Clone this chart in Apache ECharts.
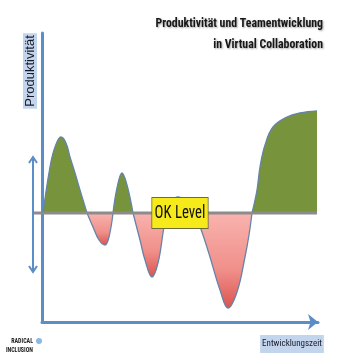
<!DOCTYPE html>
<html><head><meta charset="utf-8">
<script src="https://cdn.jsdelivr.net/npm/echarts@6/dist/echarts.min.js"></script>
<style>html,body{margin:0;padding:0;background:#fff}#c{width:360px;height:360px}</style>
</head><body><div id="c"></div>
<script>
// Development time (x) and productivity relative to OK level (y)
const timeValues = [1,8,13,19,24,28,33,38,45, 51,57,63,67,71, 75,80,85,91, 98,103,110,116,121,124, 130,136,144,153, 161,168,178,186,195,203,207,210, 215,218,223,231,245,258,275];
const productivity = [0,46,66,76,70,56,40,23,0, -14,-27,-32,-24,0, 25,40,28,0, -27,-47,-64,-50,-20,0, 12,16,11,0, -22,-44,-77,-95,-79,-44,-22,0, 23,46,68,86,96,100,102];
const titleLines = ['Produktivität und Teamentwicklung', 'in Virtual Collaboration'];
const yAxisName = 'Produktivität';
const xAxisName = 'Entwicklungszeit';
const levelLabel = 'OK Level';
const okLevel = 0;

(function () {
const NARROW = "'Liberation Sans Narrow','Arial Narrow','Roboto Condensed',sans-serif";
const chart = echarts.init(document.getElementById('c'));

const segments = [];
let cur = [[timeValues[0], productivity[0]]];
for (let i = 1; i < timeValues.length; i++) {
  cur.push([timeValues[i], productivity[i]]);
  if (productivity[i] === okLevel && i < timeValues.length - 1) { segments.push(cur); cur = [[timeValues[i], productivity[i]]]; }
}
segments.push(cur);

const series = segments.map(seg => {
  const positive = seg.some(p => p[1] > 0);
  return {
    type: 'line', data: seg, smooth: 0.4, symbol: 'none', z: 2,
    lineStyle: { color: '#6585a8', width: 1.3 },
    areaStyle: {
      origin: 0, opacity: 1,
      color: positive ? '#77933c' : new echarts.graphic.LinearGradient(0, 0, 0, 1, [
        { offset: 0, color: '#f9b3ae' }, { offset: 0.6, color: '#f08f8a' }, { offset: 1, color: '#dc5450' }])
    }
  };
});

chart.setOption({
  animation: false,
  grid: { left: 42, top: 33, right: 42, bottom: 38 },
  xAxis: { type: 'value', min: 0, max: 276,
    axisLine: { onZero: false, lineStyle: { color: '#5b8dc6', width: 3 }, symbol: ['none', 'arrow'], symbolSize: [12, 10] },
    axisTick: { show: false }, axisLabel: { show: false }, splitLine: { show: false } },
  yAxis: { type: 'value', min: -109, max: 180,
    axisLine: { show: true, onZero: false, lineStyle: { color: '#5b8dc6', width: 3 } },
    axisTick: { show: false }, axisLabel: { show: false }, splitLine: { show: false } },
  series: series
});

const px = (x, y) => chart.convertToPixel({ xAxisIndex: 0, yAxisIndex: 0 }, [x, y]);
const zeroL = px(timeValues[0], okLevel);
const zeroR = px(timeValues[timeValues.length - 1], okLevel);
const ax = zeroL[0] - 10;
const arrTop = zeroL[1] - 56, arrBot = zeroL[1] + 59;
const blue = '#5b8dc6';
const lvl = px(138, okLevel);

chart.setOption({
  graphic: [
    { type: 'line', z: 10, shape: { x1: ax, y1: zeroL[1], x2: zeroR[0], y2: zeroR[1] }, style: { stroke: '#8c8c8c', lineWidth: 3 } },
    { type: 'line', z: 10, shape: { x1: ax, y1: arrTop, x2: ax, y2: arrBot }, style: { stroke: blue, lineWidth: 2 } },
    { type: 'polyline', z: 10, shape: { points: [[ax - 4, arrTop + 6], [ax, arrTop], [ax + 4, arrTop + 6]] }, style: { stroke: blue, lineWidth: 2, fill: null } },
    { type: 'polyline', z: 10, shape: { points: [[ax - 4, arrBot - 6], [ax, arrBot], [ax + 4, arrBot - 6]] }, style: { stroke: blue, lineWidth: 2, fill: null } },
    { type: 'text', z: 20, x: lvl[0], y: lvl[1], scaleX: 0.78, style: { text: levelLabel, align: 'center', verticalAlign: 'middle',
        font: '19px ' + NARROW, fill: '#111', backgroundColor: '#f7ea1a', borderColor: '#6b6b3a', borderWidth: 1, padding: [6, 3, 5, 3] } },
    { type: 'text', z: 20, x: 323, y: 13, scaleX: 0.91, style: { text: titleLines.join('\n'), align: 'right', verticalAlign: 'top', lineHeight: 21,
        font: 'bold 13px ' + NARROW, fill: '#161616', textShadowColor: 'rgba(0,0,0,0.35)', textShadowBlur: 2, textShadowOffsetX: 1, textShadowOffsetY: 1 } },
    { type: 'text', z: 20, x: 30, y: 71, rotation: Math.PI / 2, style: { text: yAxisName, align: 'center', verticalAlign: 'middle',
        font: '13px "Liberation Sans",sans-serif', fill: '#1a1a2a', backgroundColor: '#c3d5ec', padding: [1, 2, 0, 2] } },
    { type: 'text', z: 20, x: 292, y: 344, style: { text: xAxisName, align: 'center', verticalAlign: 'middle',
        font: '9px ' + NARROW, fill: '#1a1a2a', backgroundColor: '#c3d5ec', padding: [5, 2, 4, 2] } },
    { type: 'text', z: 20, x: 33, y: 337, scaleX: 0.75, style: { text: 'RADICAL\nINCLUSION', align: 'right', verticalAlign: 'top', lineHeight: 8.5,
        font: 'bold 8px ' + NARROW, fill: '#222' } },
    { type: 'circle', z: 20, shape: { cx: 39, cy: 341, r: 3 }, style: { fill: '#8ab8e8' } }
  ]
});
})();
</script></body></html>
